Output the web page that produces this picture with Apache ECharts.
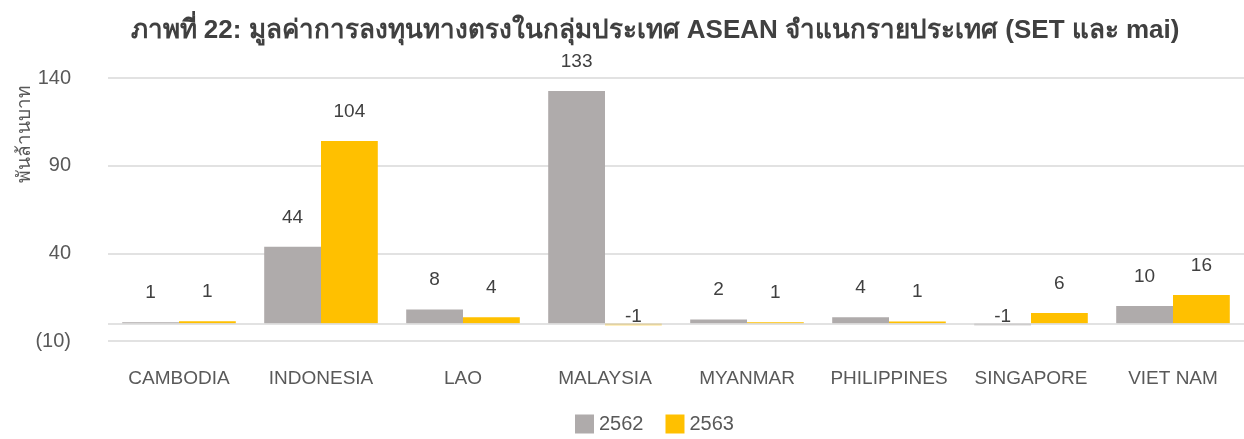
<!DOCTYPE html>
<html>
<head>
    <meta charset="UTF-8">
    <title>ภาพที่ 22</title>
    <script src="https://cdn.jsdelivr.net/npm/echarts@6/dist/echarts.min.js"></script>
    <style>
        body { margin: 0; padding: 0; background: #fff; }
        #chart { width: 1244px; height: 439px; }
    </style>
</head>
<body>
    <div id="chart"></div>
    <script>
        const countries = ['CAMBODIA', 'INDONESIA', 'LAO', 'MALAYSIA', 'MYANMAR', 'PHILIPPINES', 'SINGAPORE', 'VIET NAM'];
        const years = ['2562', '2563'];
        const values2562 = [0.7, 43.7, 8.0, 132.6, 2.3, 3.6, -1.0, 10.0];
        const values2563 = [1.3, 104.0, 3.6, -1.0, 0.7, 1.1, 6.0, 16.2];
        const yTicks = [-10, 40, 90, 140];

        const font = '"Liberation Sans", Arial, "Noto Sans", sans-serif';

        // negative bars get their label just above the zero line
        function withLabels(vals) {
            return vals.map(v => v < 0 ? { value: v, label: { distance: -3 } } : v);
        }

        function fmtLabel(p) {
            return String(Math.round(p.value));
        }

        const chart = echarts.init(document.getElementById('chart'));
        chart.setOption({
            animation: false,
            textStyle: { fontFamily: font },
            title: {
                text: 'ภาพที่ 22: มูลค่าการลงทุนทางตรงในกลุ่มประเทศ ASEAN จำแนกรายประเทศ (SET และ mai)',
                left: 650,
                textAlign: 'center',
                top: 13,
                textStyle: { fontSize: 26, fontWeight: 'bold', color: '#404040', fontFamily: font }
            },
            legend: {
                data: years,
                bottom: 0,
                left: 570,
                itemWidth: 19,
                itemHeight: 19,
                itemGap: 22,
                icon: 'rect',
                textStyle: { fontSize: 20, color: '#595959', fontFamily: font }
            },
            grid: { left: 108, right: 0, top: 78, bottom: 98 },
            xAxis: {
                type: 'category',
                data: countries,
                axisLine: { show: false, onZero: false },
                axisTick: { show: false },
                axisLabel: { fontSize: 19, color: '#595959', margin: 28, interval: 0, fontFamily: font }
            },
            yAxis: {
                type: 'value',
                min: yTicks[0],
                max: yTicks[yTicks.length - 1],
                interval: 50,
                axisLine: { show: false },
                axisTick: { show: false },
                splitLine: { lineStyle: { color: '#d9d9d9', width: 1.5 } },
                axisLabel: {
                    fontSize: 20,
                    color: '#595959',
                    margin: 37,
                    fontFamily: font,
                    formatter: v => v < 0 ? '(' + Math.abs(v) + ')' : String(v)
                }
            },
            graphic: [{
                type: 'text',
                x: 25,
                y: 134,
                rotation: Math.PI / 2,
                style: {
                    text: 'พันล้านบาท',
                    fontSize: 19,
                    fill: '#595959',
                    fontFamily: font,
                    align: 'center',
                    verticalAlign: 'middle'
                }
            }],
            series: [
                {
                    name: years[0],
                    type: 'bar',
                    data: withLabels(values2562),
                    barGap: '0%',
                    barCategoryGap: '20%',
                    itemStyle: { color: '#AFABAB' },
                    label: {
                        show: true,
                        position: 'top',
                        distance: 20,
                        fontSize: 19,
                        color: '#404040',
                        fontFamily: font,
                        formatter: fmtLabel
                    },
                    markLine: {
                        silent: true,
                        symbol: 'none',
                        label: { show: false },
                        lineStyle: { color: '#d9d9d9', width: 1.5, type: 'solid' },
                        data: [{ yAxis: 0 }]
                    }
                },
                {
                    name: years[1],
                    type: 'bar',
                    data: withLabels(values2563),
                    barGap: '0%',
                    barCategoryGap: '20%',
                    itemStyle: { color: '#FFC000' },
                    label: {
                        show: true,
                        position: 'top',
                        distance: 20,
                        fontSize: 19,
                        color: '#404040',
                        fontFamily: font,
                        formatter: fmtLabel
                    }
                }
            ]
        });
    </script>
</body>
</html>
